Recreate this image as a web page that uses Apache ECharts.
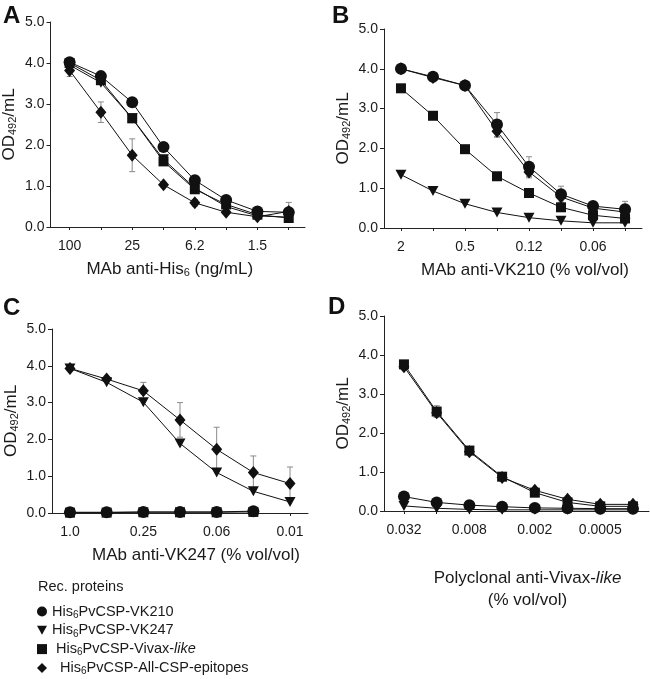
<!DOCTYPE html>
<html><head><meta charset="utf-8">
<script src="https://cdn.jsdelivr.net/npm/echarts@6/dist/echarts.min.js"></script>
<style>html,body{margin:0;padding:0;background:#fff}#c{width:650px;height:679px}</style>
</head><body><div id="c"></div>
<script>
// ---- tick labels ----
const labelsA = ['100', '', '25', '', '6.2', '', '1.5', ''];
const labelsB = ['2', '', '0.5', '', '0.12', '', '0.06', ''];
const labelsC = ['1.0', '', '0.25', '', '0.06', '', '0.01'];
const labelsD = ['0.032', '', '0.008', '', '0.002', '', '0.0005', ''];

// ---- Panel A: MAb anti-His6 ----
const aVK210 = [4.02, 3.68, 3.04, 1.95, 1.14, 0.66, 0.38, 0.36];
const aVK247 = [3.95, 3.52, 2.65, 1.65, 0.95, 0.50, 0.27, 0.24];
const aVivax = [4.00, 3.58, 2.65, 1.60, 0.92, 0.55, 0.30, 0.22];
const aAll   = [3.82, 2.80, 1.75, 1.03, 0.59, 0.36, 0.25, 0.38];
const aAllErr = [0.15, 0.25, 0.40, 0.05, 0.08, 0, 0, 0.22];

// ---- Panel B: MAb anti-VK210 ----
const bVK210 = [4.00, 3.80, 3.58, 2.60, 1.54, 0.85, 0.55, 0.47];
const bVK247 = [1.34, 0.93, 0.61, 0.39, 0.26, 0.18, 0.13, 0.13];
const bVivax = [3.51, 2.82, 1.98, 1.30, 0.88, 0.52, 0.32, 0.24];
const bAll   = [4.00, 3.78, 3.58, 2.43, 1.41, 0.78, 0.50, 0.40];
const bVK210Err = [0, 0, 0, 0.30, 0.25, 0.20, 0.10, 0.20];
const bAllErr   = [0, 0, 0, 0.15, 0.15, 0.05, 0, 0];

// ---- Panel C: MAb anti-VK247 ----
const cVK210 = [0.02, 0.02, 0.03, 0.03, 0.03, 0.05];
const cVK247 = [3.93, 3.55, 3.01, 1.89, 1.10, 0.59, 0.30];
const cVivax = [0.01, 0.01, 0.02, 0.02, 0.02, 0.03];
const cAll   = [3.93, 3.64, 3.32, 2.53, 1.73, 1.10, 0.80];
const cAllErr = [0, 0, 0.23, 0.47, 0.60, 0.45, 0.45];

// ---- Panel D: Polyclonal anti-Vivax-like ----
const dVK210 = [0.37, 0.22, 0.15, 0.11, 0.08, 0.07, 0.06, 0.06];
const dVK247 = [0.13, 0.07, 0.04, 0.03, 0.03, 0.03, 0.03, 0.03];
const dVivax = [3.76, 2.55, 1.55, 0.88, 0.47, 0.22, 0.12, 0.12];
const dAll   = [3.70, 2.52, 1.52, 0.86, 0.53, 0.30, 0.17, 0.17];
const dVivaxErr = [0.05, 0.15, 0.10, 0.08, 0.08, 0.05, 0.03, 0.03];

const FONT = 'Liberation Sans, Arial, sans-serif';
const TRI = 'path://M0,0L10,0L5,9Z';
const SYM = {
  VK210: {symbol: 'circle', size: 12},
  VK247: {symbol: TRI, size: [11, 10]},
  Vivax: {symbol: 'rect', size: 10},
  All:   {symbol: 'diamond', size: [11, 13]}
};
const subRich = {
  sub: {fontSize: 11, fontFamily: FONT, color: '#1a1a1a', padding: [7, 0, 0, 0]},
  it: {fontSize: 17, fontFamily: FONT, color: '#1a1a1a', fontStyle: 'italic'}
};

function lineSeries(name, key, idx, values) {
  return {
    type: 'line', name: name, xAxisIndex: idx, yAxisIndex: idx,
    data: values.map((v, i) => [i, v]),
    symbol: SYM[key].symbol, symbolSize: SYM[key].size,
    showAllSymbol: true,
    lineStyle: {color: '#111', width: 1},
    itemStyle: {color: '#111'},
    z: 3, animation: false, silent: true
  };
}
function errSeries(idx, values, errs) {
  return {
    type: 'custom', xAxisIndex: idx, yAxisIndex: idx, z: 2, animation: false, silent: true,
    data: values.map((v, i) => [i, v, errs[i]]).filter(d => d[2] > 0),
    encode: {x: 0, y: 1},
    renderItem: function (params, api) {
      const x = api.value(0), y = api.value(1), e = api.value(2);
      const t = api.coord([x, y + e]);
      const b = api.coord([x, y - e]);
      const st = {stroke: '#8a8a8a', lineWidth: 1};
      return {type: 'group', children: [
        {type: 'line', shape: {x1: t[0], y1: t[1], x2: b[0], y2: b[1]}, style: st},
        {type: 'line', shape: {x1: t[0] - 3, y1: t[1], x2: t[0] + 3, y2: t[1]}, style: st},
        {type: 'line', shape: {x1: b[0] - 3, y1: b[1], x2: b[0] + 3, y2: b[1]}, style: st}
      ]};
    }
  };
}
function xAxis(idx, min, max, labels, name, pad, gap) {
  return {
    type: 'value', gridIndex: idx, min: min, max: max,
    axisLine: {onZero: false, lineStyle: {color: '#222', width: 1}},
    axisTick: {show: true, length: 3, customValues: labels.map((l, i) => i), lineStyle: {color: '#222'}},
    splitLine: {show: false},
    axisLabel: {customValues: labels.map((l, i) => i).filter(i => labels[i] !== ''),
      formatter: v => labels[Math.round(v)], fontSize: 14, fontFamily: FONT, color: '#1a1a1a', margin: 12},
    name: name, nameLocation: 'middle', nameGap: gap,
    nameTextStyle: {fontSize: 17, fontFamily: FONT, color: '#1a1a1a', padding: pad, rich: subRich, lineHeight: 22}
  };
}
function yAxis(idx) {
  return {
    type: 'value', gridIndex: idx, min: 0, max: 5, interval: 1,
    axisLine: {show: true, onZero: false, lineStyle: {color: '#222', width: 1}},
    axisTick: {show: true, length: 4, lineStyle: {color: '#222'}},
    splitLine: {show: false},
    axisLabel: {formatter: v => v.toFixed(1), fontSize: 14, fontFamily: FONT, color: '#1a1a1a', margin: 6},
    name: 'OD{sub|492}/mL', nameLocation: 'middle', nameGap: 32, nameRotate: 90,
    nameTextStyle: {fontSize: 17, fontFamily: FONT, color: '#1a1a1a', rich: subRich}
  };
}

const option = {
  animation: false,
  backgroundColor: '#fff',
  textStyle: {fontFamily: FONT},
  grid: [
    {left: 50, top: 22, width: 255, height: 205},
    {left: 384, top: 29, width: 258, height: 199},
    {left: 52, top: 329, width: 256, height: 184},
    {left: 384, top: 316, width: 265, height: 195}
  ],
  xAxis: [
    xAxis(0, -0.61, 7.52, labelsA, 'MAb anti-His{sub|6} (ng/mL)', [0, 16, 0, 0], 31),
    xAxis(1, -0.53, 7.53, labelsB, 'MAb anti-VK210 (% vol/vol)', [0, 0, 0, 24], 31),
    xAxis(2, -0.49, 6.49, labelsC, 'MAb anti-VK247 (% vol/vol)', [0, 0, 0, 32], 31),
    xAxis(3, -0.61, 7.49, labelsD, 'Polyclonal anti-Vivax-{it|like}\n(% vol/vol)', [0, 0, 0, 22], 56)
  ],
  yAxis: [yAxis(0), yAxis(1), yAxis(2), yAxis(3)],
  legend: {
    orient: 'vertical', left: 37, top: 604, height: 120, padding: 0,
    itemGap: 2.8, itemWidth: 10, itemHeight: 10,
    selectedMode: false,
    data: [
      {name: 'VK210', icon: 'circle'},
      {name: 'VK247', icon: TRI},
      {name: 'Vivax', icon: 'rect'},
      {name: 'All', icon: 'diamond'}
    ],
    formatter: function (n) {
      return {
        VK210: 'His{sub|6}PvCSP-VK210',
        VK247: 'His{sub|6}PvCSP-VK247',
        Vivax: ' His{sub|6}PvCSP-Vivax-{it|like}',
        All: '  His{sub|6}PvCSP-All-CSP-epitopes'
      }[n];
    },
    textStyle: {fontSize: 14.5, fontFamily: FONT, color: '#1a1a1a',
      rich: {sub: {fontSize: 10, fontFamily: FONT, color: '#1a1a1a', padding: [7, 0, 0, 0]},
             it: {fontSize: 14.5, fontFamily: FONT, color: '#1a1a1a', fontStyle: 'italic'}}}
  },
  graphic: [
    {type: 'text', left: 3, top: 4, style: {text: 'A', font: 'bold 24px ' + FONT, fill: '#111'}},
    {type: 'text', left: 332, top: 4, style: {text: 'B', font: 'bold 24px ' + FONT, fill: '#111'}},
    {type: 'text', left: 3, top: 296, style: {text: 'C', font: 'bold 24px ' + FONT, fill: '#111'}},
    {type: 'text', left: 328, top: 295, style: {text: 'D', font: 'bold 24px ' + FONT, fill: '#111'}},
    {type: 'text', left: 38, top: 579, style: {text: 'Rec. proteins', font: '14.5px ' + FONT, fill: '#1a1a1a'}}
  ],
  series: [
    errSeries(0, aAll, aAllErr),
    lineSeries('VK210', 'VK210', 0, aVK210),
    lineSeries('VK247', 'VK247', 0, aVK247),
    lineSeries('Vivax', 'Vivax', 0, aVivax),
    lineSeries('All', 'All', 0, aAll),

    errSeries(1, bVK210, bVK210Err),
    errSeries(1, bAll, bAllErr),
    lineSeries('VK210', 'VK210', 1, bVK210),
    lineSeries('VK247', 'VK247', 1, bVK247),
    lineSeries('Vivax', 'Vivax', 1, bVivax),
    lineSeries('All', 'All', 1, bAll),

    errSeries(2, cAll, cAllErr),
    lineSeries('VK210', 'VK210', 2, cVK210),
    lineSeries('VK247', 'VK247', 2, cVK247),
    lineSeries('Vivax', 'Vivax', 2, cVivax),
    lineSeries('All', 'All', 2, cAll),

    errSeries(3, dVivax, dVivaxErr),
    lineSeries('VK210', 'VK210', 3, dVK210),
    lineSeries('VK247', 'VK247', 3, dVK247),
    lineSeries('Vivax', 'Vivax', 3, dVivax),
    lineSeries('All', 'All', 3, dAll)
  ]
};
const chart = echarts.init(document.getElementById('c'), null, {renderer: 'canvas'});
chart.setOption(option);
</script>
</body></html>
